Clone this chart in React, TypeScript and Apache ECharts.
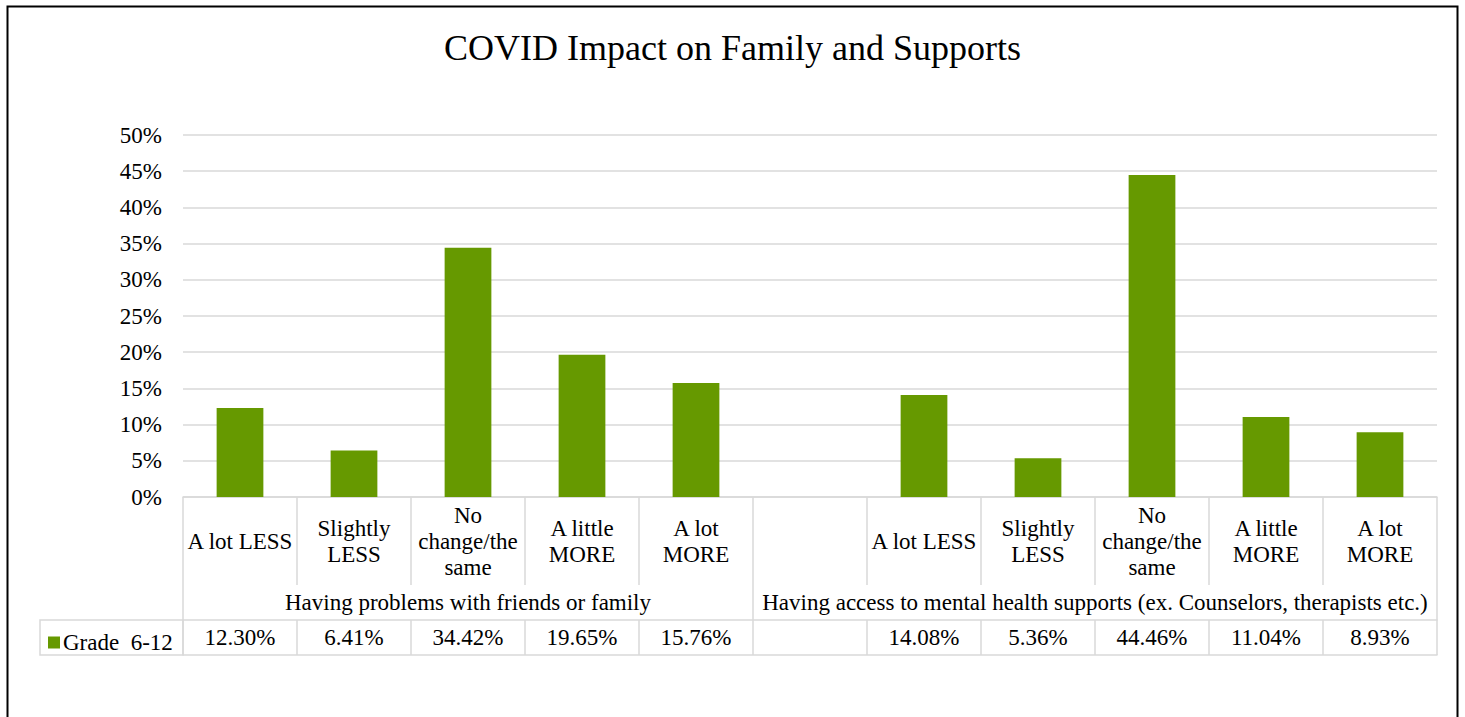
import React, { useEffect, useRef } from "react";
import * as echarts from "echarts";

const title = "COVID Impact on Family and Supports";
const seriesName = "Grade  6-12";
const categories = [
  "A lot LESS",
  "Slightly\nLESS",
  "No\nchange/the\nsame",
  "A little\nMORE",
  "A lot\nMORE",
  "",
  "A lot LESS",
  "Slightly\nLESS",
  "No\nchange/the\nsame",
  "A little\nMORE",
  "A lot\nMORE",
];
const values: (number | null)[] = [12.3, 6.41, 34.42, 19.65, 15.76, null, 14.08, 5.36, 44.46, 11.04, 8.93];
const groupNames = [
  "Having problems with friends or family",
  "Having access to mental health supports (ex. Counselors, therapists etc.)",
];
const groupBounds = [0, 5, 11];
const yMax = 50;
const yStep = 5;

const FONT = "'Liberation Serif', 'Times New Roman', serif";
const FS = 23;
const GRID_LINE = "#d9d9d9";
const BAR = "#669900";

export default function App() {
  const ref = useRef<HTMLDivElement>(null);
  useEffect(() => {
    if (!ref.current) return;
    const chart = echarts.init(ref.current, null, { renderer: "svg" });
    const gridLeft = 183;
    const gridRight = 28;
    const gridTop = 135;
    const gridBottom = 220;
    const rowLabel = 88;
    const rowGroup = 35;
    const rowData = 35;
    const valueLabels = values.map((v) => (v == null ? "" : v.toFixed(2) + "%"));
    const groupCenters = groupNames.map((_, i) => (groupBounds[i] + groupBounds[i + 1]) / 2);
    const zeroY = 717 - gridBottom;

    chart.setOption({
      animation: false,
      textStyle: { fontFamily: FONT, color: "#000" },
      title: {
        text: title,
        left: "center",
        top: 25,
        textStyle: { fontFamily: FONT, fontSize: 36, fontWeight: "normal", color: "#000" },
      },
      legend: {
        data: [seriesName],
        left: 43,
        top: zeroY + rowLabel + rowGroup + 6,
        icon: "rect",
        itemWidth: 12,
        itemHeight: 12,
        itemGap: 5,
        textStyle: { fontFamily: FONT, fontSize: FS, color: "#000", padding: [0, 0, 0, -2] },
      },
      grid: { left: gridLeft, right: gridRight, top: gridTop, bottom: gridBottom },
      xAxis: [
        {
          type: "category",
          data: categories,
          position: "bottom",
          axisLine: { show: true, lineStyle: { color: GRID_LINE, width: 1.5 } },
          axisTick: { show: true, interval: 0, length: rowLabel, lineStyle: { color: GRID_LINE, width: 1.5 } },
          axisLabel: {
            interval: 0,
            margin: rowLabel / 2,
            verticalAlign: "middle",
            fontFamily: FONT,
            fontSize: FS,
            lineHeight: 26,
            color: "#000",
            hideOverlap: false,
          },
        },
        {
          type: "value",
          min: 0,
          max: categories.length,
          position: "bottom",
          offset: rowLabel,
          splitLine: { show: false },
          axisLine: { show: false },
          axisTick: {
            show: true,
            length: rowGroup,
            customValues: groupBounds,
            lineStyle: { color: GRID_LINE, width: 1.5 },
          },
          axisLabel: {
            customValues: groupCenters,
            margin: rowGroup / 2,
            verticalAlign: "middle",
            fontFamily: FONT,
            fontSize: FS,
            color: "#000",
            formatter: (v: number) => {
              const i = groupCenters.findIndex((c) => Math.abs(c - v) < 1e-6);
              return i >= 0 ? groupNames[i] : "";
            },
          },
        },
        {
          type: "category",
          data: valueLabels,
          position: "bottom",
          offset: rowLabel + rowGroup,
          axisLine: { show: true, lineStyle: { color: GRID_LINE, width: 1.5 } },
          axisTick: { show: true, interval: 0, length: rowData, lineStyle: { color: GRID_LINE, width: 1.5 } },
          axisLabel: {
            interval: 0,
            margin: rowData / 2,
            verticalAlign: "middle",
            fontFamily: FONT,
            fontSize: FS,
            color: "#000",
            hideOverlap: false,
          },
        },
        {
          type: "category",
          data: valueLabels,
          position: "bottom",
          offset: rowLabel + rowGroup + rowData,
          axisLine: { show: true, lineStyle: { color: GRID_LINE, width: 1.5 } },
          axisTick: { show: false },
          axisLabel: { show: false },
        },
      ],
      yAxis: {
        type: "value",
        min: 0,
        max: yMax,
        interval: yStep,
        axisLine: { show: false },
        axisTick: { show: false },
        splitLine: { show: true, lineStyle: { color: GRID_LINE, width: 1.5 } },
        axisLabel: {
          margin: 21,
          fontFamily: FONT,
          fontSize: FS,
          color: "#000",
          formatter: (v: number) => `${v}%`,
        },
      },
      series: [
        {
          name: seriesName,
          type: "bar",
          xAxisIndex: 0,
          data: values,
          barCategoryGap: "59%",
          itemStyle: { color: BAR },
        },
      ],
      graphic: [
        {
          type: "rect",
          shape: { x: 40, y: zeroY + rowLabel + rowGroup, width: gridLeft - 40, height: rowData },
          style: { fill: "none", stroke: GRID_LINE, lineWidth: 1.5 },
          silent: true,
        },
        {
          type: "rect",
          shape: { x: 7.5, y: 6.5, width: 1450, height: 740 },
          style: { fill: "none", stroke: "#000", lineWidth: 2 },
          silent: true,
        },
      ],
    });
    return () => chart.dispose();
  }, []);
  return (
    <div
      ref={ref}
      style={{ position: "fixed", left: 0, top: 0, width: 1465, height: 717, background: "#fff" }}
    />
  );
}
